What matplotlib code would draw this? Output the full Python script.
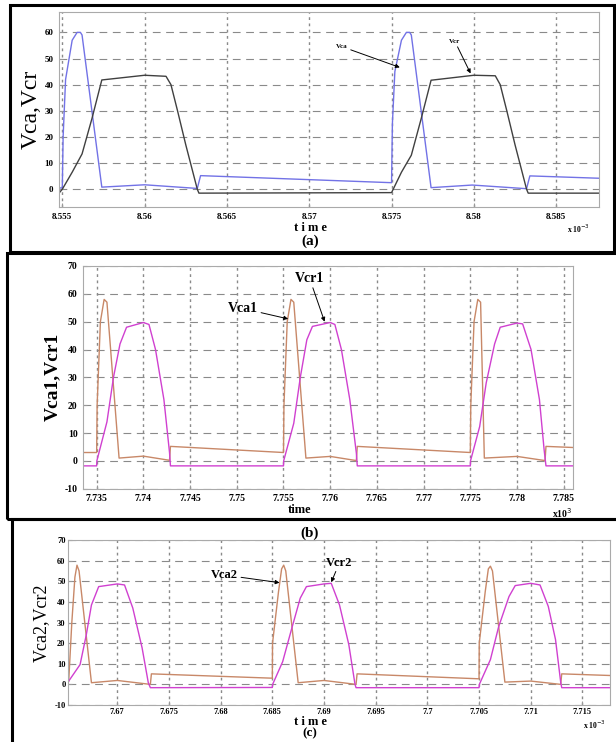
import numpy as np
import matplotlib
matplotlib.use("Agg")
import matplotlib.pyplot as plt
from matplotlib.patches import Rectangle

# ---- panel (a) data, time in x10^-3 s ----
ta_ca = [8.5548, 8.5550, 8.55505, 8.5552, 8.5556, 8.5559, 8.5561, 8.5562, 8.5574, 8.5600, 8.5632, 8.5634,
         8.5750, 8.57505, 8.5752, 8.5756, 8.5759, 8.5761, 8.5762, 8.5774, 8.5799, 8.5832, 8.5834, 8.5876]
va_ca = [0.5, 0.5, 20, 42, 57, 60, 60, 59, 0.8, 1.7, 0.3, 5.2,
         2.5, 25, 45, 57, 60, 60, 59, 0.6, 1.6, 0.2, 5.1, 4.2]
ta_cr = [8.5548, 8.5550, 8.5556, 8.5562, 8.5568, 8.5574, 8.5600, 8.5613, 8.5616, 8.5620, 8.5625, 8.5632, 8.5633,
         8.5750, 8.5756, 8.5762, 8.5768, 8.5774, 8.5800, 8.5813, 8.5816, 8.5820, 8.5825, 8.5832, 8.5833, 8.5876]
va_cr = [-1.5, 0, 6.5, 13.5, 27, 41.8, 43.6, 43.2, 40, 30, 17, 0, -1.5,
         -1.3, 6.5, 13, 27, 41.7, 43.6, 43.4, 40, 30, 17, 0, -1.5, -1.5]

# ---- panel (b) data ----
tb_ca = [7.7336, 7.7350, 7.73505, 7.7354, 7.7358, 7.7361, 7.7374, 7.7400, 7.7428, 7.7429, 7.7550,
         7.75505, 7.7554, 7.7558, 7.7561, 7.7574, 7.7600, 7.7628, 7.7629, 7.7750,
         7.77505, 7.7754, 7.7758, 7.7761, 7.7765, 7.7800, 7.7830, 7.7831, 7.7860]
vb_ca = [3.0, 3.0, 20, 50, 58, 57, 1.0, 1.7, 0.2, 5.2, 3.0,
         20, 50, 58, 57, 1.0, 1.6, 0.1, 5.2, 3.0,
         20, 50, 58, 57, 1.0, 1.6, 0.1, 5.2, 4.8]
tb_cr = [7.7336, 7.7350, 7.73502, 7.7361, 7.7368, 7.7375, 7.7382, 7.7400, 7.7406, 7.7413, 7.7422, 7.7428, 7.7429,
         7.7550, 7.75502, 7.7561, 7.7568, 7.7575, 7.7581, 7.7600, 7.7605, 7.7612, 7.7621, 7.7628, 7.7629,
         7.7750, 7.77502, 7.7760, 7.7767, 7.7776, 7.7782, 7.7800, 7.7806, 7.7815, 7.7824, 7.7829, 7.7831, 7.7860]
vb_cr = [-1.8, -1.8, 0, 14, 30, 42, 48, 49.7, 49, 40, 22, 3, -1.8,
         -1.8, 0, 13.5, 30, 43.5, 48.3, 49.7, 49, 40, 22, 2.8, -1.8,
         -1.8, 0, 12.3, 28, 42, 48, 49.5, 49.2, 40, 22, 4, -1.8, -1.8]

# ---- panel (c) data ----
tc_ca = [7.6653, 7.6656, 7.6659, 7.6661, 7.6663, 7.6675, 7.6700, 7.6732, 7.6733, 7.6850,
         7.68502, 7.6856, 7.6859, 7.6861, 7.6863, 7.6875, 7.6900, 7.6931, 7.6932, 7.7050,
         7.70502, 7.7056, 7.7059, 7.7061, 7.7063, 7.7075, 7.7100, 7.7129, 7.7130, 7.7177]
vc_ca = [1.6, 30, 52, 57.8, 55, 0.8, 1.9, 0.0, 5.1, 3.0,
         20, 45, 56, 57.8, 55, 0.8, 1.9, 0.0, 5.1, 2.7,
         20, 45, 56, 57.3, 55, 1.1, 1.6, 0.0, 5.1, 4.3]
tc_cr = [7.6653, 7.6664, 7.6670, 7.6675, 7.6682, 7.6700, 7.6707, 7.6715, 7.6724, 7.6730, 7.6732, 7.6850,
         7.68503, 7.6860, 7.6868, 7.6877, 7.6883, 7.6900, 7.6907, 7.6915, 7.6924, 7.6930, 7.6931, 7.7050,
         7.70503, 7.7061, 7.7069, 7.7079, 7.7085, 7.7100, 7.7109, 7.7117, 7.7124, 7.7129, 7.7130, 7.7177]
vc_cr = [1.6, 9.6, 24, 38.5, 47.4, 48.7, 48.2, 37, 17.7, 0.8, -1.6, -1.5,
         0, 11, 25.7, 41.8, 47.4, 48.7, 49, 38.5, 19.3, 0, -1.6, -1.6,
         0, 12, 28, 42.6, 47.9, 49, 48.2, 37.8, 21.7, 1.1, -1.6, -1.6]

xt_a = [8.555, 8.56, 8.565, 8.57, 8.575, 8.58, 8.585]
xl_a = ["8.555", "8.56", "8.565", "8.57", "8.575", "8.58", "8.585"]
xt_b = [7.735, 7.74, 7.745, 7.75, 7.755, 7.76, 7.765, 7.77, 7.775, 7.78, 7.785]
xl_b = ["7.735", "7.74", "7.745", "7.75", "7.755", "7.76", "7.765", "7.77", "7.775", "7.78", "7.785"]
xt_c = [7.67, 7.675, 7.68, 7.685, 7.69, 7.695, 7.7, 7.705, 7.71, 7.715]
xl_c = ["7.67", "7.675", "7.68", "7.685", "7.69", "7.695", "7.7", "7.705", "7.71", "7.715"]
yt_a = [0, 10, 20, 30, 40, 50, 60]
yt_bc = [-10, 0, 10, 20, 30, 40, 50, 60, 70]

W, H = 616, 742
SERIF = "Liberation Serif"
plt.rcParams["font.family"] = SERIF

fig = plt.figure(figsize=(W / 100, H / 100), dpi=100)


def px_axes(x0, y0, x1, y1):
    return fig.add_axes([x0 / W, 1 - y1 / H, (x1 - x0) / W, (y1 - y0) / H])


def style(ax, xt, xl, yt, fs, pad=4):
    ax.set_xticks(xt)
    ax.set_xticklabels(xl, fontsize=fs, fontweight="bold")
    ax.set_yticks(yt)
    ax.set_yticklabels([str(v) for v in yt], fontsize=fs, fontweight="bold")
    ax.tick_params(direction="in", length=3, color="#999999", pad=pad)
    for s in ax.spines.values():
        s.set_color("#aaaaaa")
        s.set_linewidth(0.8)
    for v in xt:
        ax.axvline(v, color="#8a8a8a", lw=1.0, ls=(0, (2, 2.5)), zorder=0)
    for v in yt:
        ax.axhline(v, color="#8a8a8a", lw=0.8, ls=(0, (7, 5)), zorder=0)


def ftext(x, y, s, **kw):
    fig.text(x / W, 1 - y / H, s, ha="center", va="center", **kw)


arrow = dict(arrowstyle="-|>", color="black", lw=0.7, mutation_scale=6, shrinkA=0, shrinkB=0)

# (a)
axa = px_axes(59, 12, 599, 207)
axa.plot(ta_ca, va_ca, color="#7272e6", lw=1.0)
axa.plot(ta_cr, va_cr, color="#404040", lw=1.0)
axa.set_xlim(8.5548, 8.5876)
axa.set_ylim(-6.8, 67.8)
style(axa, xt_a, xl_a, yt_a, 6.5)
axa.set_ylabel("Vca,Vcr", fontsize=17, labelpad=2)
axa.annotate("Vca", xy=(8.5755, 46.6), xytext=(8.5720, 54.5), fontsize=5, fontweight="bold",
             ha="center", va="center", arrowprops=arrow)
axa.annotate("Vcr", xy=(8.5798, 44.3), xytext=(8.57885, 56.5), fontsize=5, fontweight="bold",
             ha="center", va="center", arrowprops=arrow)
ftext(310, 228, "t i m e", fontsize=9, fontweight="bold")
ftext(578, 229, r"x 10$^{-3}$", fontsize=5.5, fontweight="bold")
ftext(310, 241, "(a)", fontsize=11, fontweight="bold")

# (b)
axb = px_axes(83.3, 266, 572.7, 488.7)
axb.plot(tb_ca, vb_ca, color="#c88868", lw=1.0)
axb.plot(tb_cr, vb_cr, color="#d040d0", lw=1.0)
axb.set_xlim(7.73357, 7.78596)
axb.set_ylim(-10, 70)
style(axb, xt_b, xl_b, yt_bc, 7)
axb.set_ylabel("Vca1,Vcr1", fontsize=14, fontweight="bold", labelpad=3)
axb.annotate("Vca1", xy=(7.7555, 51), xytext=(7.7507, 54.7), fontsize=10, fontweight="bold",
             ha="center", va="center", arrowprops=arrow)
axb.annotate("Vcr1", xy=(7.7594, 50), xytext=(7.7578, 65.5), fontsize=10, fontweight="bold",
             ha="center", va="center", arrowprops=arrow)
ftext(300, 510, "time", fontsize=9, fontweight="bold")
ftext(562, 513, r"x10$^{3}$", fontsize=7, fontweight="bold")
ftext(310, 533, "(b)", fontsize=11, fontweight="bold")

# (c)
axc = px_axes(68.3, 540, 610.3, 705)
axc.plot(tc_ca, vc_ca, color="#c88868", lw=1.0)
axc.plot(tc_cr, vc_cr, color="#d040d0", lw=1.0)
axc.set_xlim(7.66526, 7.7177)
axc.set_ylim(-10, 70)
style(axc, xt_c, xl_c, yt_bc, 6, pad=2)
axc.set_ylabel("Vca2,Vcr2", fontsize=13, labelpad=3)
axc.annotate("Vca2", xy=(7.6857, 49.3), xytext=(7.6804, 53), fontsize=9, fontweight="bold",
             ha="center", va="center", arrowprops=arrow)
axc.annotate("Vcr2", xy=(7.6907, 49.5), xytext=(7.6915, 59), fontsize=9, fontweight="bold",
             ha="center", va="center", arrowprops=arrow)
ftext(310, 722, "t i m e", fontsize=9, fontweight="bold")
ftext(594, 725, r"x 10$^{-3}$", fontsize=5.5, fontweight="bold")
ftext(310, 733.5, "(c)", fontsize=9.5, fontweight="bold")

# black frames round each panel
for x0, y0, x1, y1 in [(10, 5, 614, 252), (6.7, 253, 618, 519), (11.7, 519, 618, 745)]:
    fig.patches.append(Rectangle((x0 / W, 1 - y1 / H), (x1 - x0) / W, (y1 - y0) / H,
                                 transform=fig.transFigure, fill=False, ec="black", lw=2.2))

fig.savefig("out.png", dpi=100)
